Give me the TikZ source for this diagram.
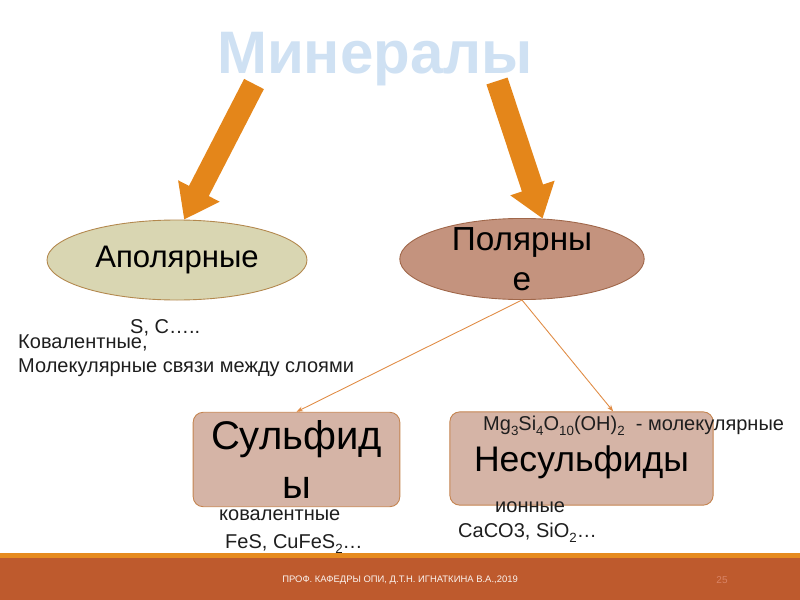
\documentclass[tikz,border=0pt]{standalone}
\usepackage{fontspec}
\setmainfont{Liberation Sans}
\usepackage{xcolor}
\usepackage{tikz}
\usetikzlibrary{arrows.meta,positioning,calc,shapes.geometric}
\definecolor{MNTitle}{HTML}{CFE1F3}
\definecolor{MNOrange}{HTML}{E4861A}
\definecolor{MNSand}{HTML}{D9D6B2}
\definecolor{MNSandEdge}{HTML}{B3884E}
\definecolor{MNClay}{HTML}{C4937E}
\definecolor{MNClayEdge}{HTML}{A0674A}
\definecolor{MNRose}{HTML}{D5B4A6}
\definecolor{MNRoseEdge}{HTML}{C48450}
\definecolor{MNLink}{HTML}{E08C45}
\definecolor{MNInk}{HTML}{1E1E1E}
\definecolor{MNBand}{HTML}{BE5A2D}
\definecolor{MNBandLine}{HTML}{E68B1F}
\definecolor{MNPage}{HTML}{D98466}
% Lowered index in the chemical formulas.
\newcommand{\MNsub}[1]{\raisebox{-0.55ex}{\fontsize{12}{12}\selectfont#1}}

\begin{document}
\begin{tikzpicture}[x=0.9pt,y=-0.9pt,line cap=round,line join=round,
  bigarrow/.style={MNOrange,line cap=butt,line width=20pt,
    -{Triangle[length=29pt,width=40pt]}},
  ovalnode/.style={ellipse,draw,line width=0.8pt,inner sep=0pt},
  boxnode/.style={rectangle,rounded corners=9pt,draw,line width=0.8pt,
    align=center,inner sep=0pt},
  link/.style={MNLink,line width=0.8pt,-{Stealth[length=6pt,width=4.5pt]}},
  note/.style={anchor=base west,inner sep=0pt,text=MNInk,
    font=\fontsize{18}{21.6}\selectfont}]
  \path[use as bounding box] (0,0) rectangle (800,600);

  % Footer band of the slide.
  \fill[MNBandLine] (0,553) rectangle (800,558);
  \fill[MNBand] (0,558) rectangle (800,600);

  \node[anchor=base,inner sep=0pt,text=MNTitle,
    font=\bfseries\fontsize{54}{60}\selectfont] (title) at (375,73) {Минералы};

  % First split: apolar and polar minerals.
  \node[ovalnode,fill=MNSand,draw=MNSandEdge,minimum width=234pt,
    minimum height=72pt,font=\fontsize{28}{34}\selectfont] (apol) at (177,260)
    {Аполярные};
  \node[ovalnode,fill=MNClay,draw=MNClayEdge,minimum width=220pt,
    minimum height=73pt] (polar) at (522,259) {};
  \node[align=center,inner sep=0pt,font=\fontsize{30}{36}\selectfont]
    (polarText) at (polar.center) {Полярны\\е};

  \coordinate (minL) at (254,84);
  \coordinate (minR) at (497,81);
  \draw[bigarrow] (minL) -- (apol.80);
  \draw[bigarrow] (minR) -- (polar.63);

  % Second split of the polar branch.
  \node[boxnode,fill=MNRose,draw=MNRoseEdge,minimum width=186pt,
    minimum height=85pt,font=\fontsize{36}{44}\selectfont] (sulf)
    at (296.5,459.5) {Сульфид\\ы};
  \node[boxnode,fill=MNRose,draw=MNRoseEdge,minimum width=237pt,
    minimum height=84pt,text depth=0pt,font=\fontsize{32}{38}\selectfont]
    (nonsulf) at (581.5,458.5) {Несульфиды};

  \draw[link] (polar.south) -- (sulf.north);
  \draw[link] (polar.south) -- ($(nonsulf.north west)!0.62!(nonsulf.north east)$);

  % Notes beside the shapes.
  \node[note] (apolEx) at (130,333) {S, C…..};
  \node[note] (apolKov) at (18,348) {Ковалентные,};
  \node[note] (apolMol) at (18,372) {Молекулярные связи между слоями};
  \node[note] (sulfKov) at (219,520) {ковалентные};
  \node[note] (sulfEx) at (225,548) {FeS, CuFeS\MNsub{2}…};
  \node[note] (talc) at (483,430)
    {Mg\MNsub{3}Si\MNsub{4}O\MNsub{10}(OH)\MNsub{2}\ \ - молекулярные};
  \node[note] (nonsulfIon) at (495,512) {ионные};
  \node[note] (nonsulfEx) at (458,537) {CaCO3, SiO\MNsub{2}…};

  \node[inner sep=0pt,text=white!92!MNBand,font=\fontsize{8.5}{10}\selectfont]
    (footer) at (400,580) {ПРОФ. КАФЕДРЫ ОПИ, Д.Т.Н. ИГНАТКИНА В.А.,2019};
  \node[inner sep=0pt,text=MNPage,font=\fontsize{9}{10}\selectfont]
    (pageNo) at (722,580) {25};
\end{tikzpicture}
\end{document}
